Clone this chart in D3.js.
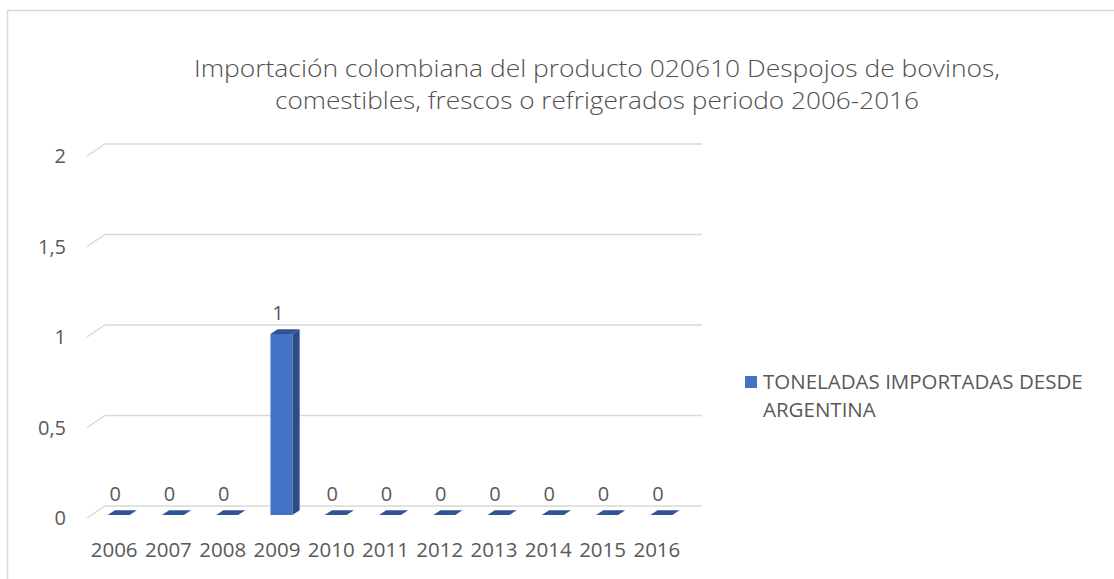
<!DOCTYPE html>
<html>
<head>
<meta charset="utf-8">
<script src="https://cdn.jsdelivr.net/npm/d3@7"></script>
<style>
  body { margin: 0; background: #fff; }
  text { font-family: "Open Sans", "Noto Sans", sans-serif; fill: #595959; }
</style>
</head>
<body>
<div id="chart"></div>
<script>
var titleLines = [
    'Importación colombiana del producto 020610 Despojos de bovinos,',
    'comestibles, frescos o refrigerados periodo 2006-2016'
];
var years = ['2006', '2007', '2008', '2009', '2010', '2011', '2012', '2013', '2014', '2015', '2016'];
var toneladas = [0, 0, 0, 1, 0, 0, 0, 0, 0, 0, 0];
var yTicks = [0, 0.5, 1, 1.5, 2];
var seriesName = ['TONELADAS IMPORTADAS DESDE', 'ARGENTINA'];

var width = 1114,
    height = 579,
    depthX = 18,   // 3d depth offset of the floor
    depthY = -12;

var svg = d3.select('#chart')
    .append('svg')
    .attr('width', width)
    .attr('height', height);

// chart area border
svg.append('rect')
    .attr('x', 7.5).attr('y', 10.5)
    .attr('width', 1130).attr('height', 600)
    .attr('fill', 'none')
    .attr('stroke', '#d9d9d9')
    .attr('stroke-width', 1.5);

// title
svg.append('g').selectAll('text')
    .data(titleLines)
    .enter()
    .append('text')
    .attr('x', 597)
    .attr('y', function (d, i) { return 77 + i * 32; })
    .attr('text-anchor', 'middle')
    .attr('font-size', 24.5)
    .attr('font-weight', 300)
    .style('fill', '#505050')
    .attr('textLength', function (d, i) { return i === 0 ? 806 : 644; })
    .attr('lengthAdjust', 'spacingAndGlyphs')
    .text(function (d) { return d; });

var x = d3.scaleBand()
    .domain(years)
    .range([87, 684]);

// value scale on the back wall
var y = d3.scaleLinear()
    .domain([0, 2])
    .range([506, 144]);

// point at front x, value, depth fraction f (0 front, 1 back)
var pt = function (xf, v, f) {
    return [xf + depthX * f, y(v) - depthY * (1 - f)];
};

var grid = svg.append('g')
    .attr('fill', 'none')
    .attr('stroke', '#d9d9d9')
    .attr('stroke-width', 1.5);

grid.selectAll('path')
    .data(yTicks)
    .enter()
    .append('path')
    .attr('d', function (t) {
        var a = pt(87, t, 0), b = pt(87, t, 1);
        return 'M' + a + 'L' + b + 'L' + (684 + depthX) + ',' + b[1];
    });

svg.append('g').selectAll('text')
    .data(yTicks)
    .enter()
    .append('text')
    .attr('x', 66)
    .attr('y', function (t) { return pt(87, t, 0)[1]; })
    .attr('dy', '0.35em')
    .attr('text-anchor', 'end')
    .attr('font-size', 20)
    .text(function (t) { return d3.format('')(t).replace('.', ','); });

svg.append('g').selectAll('text')
    .data(years)
    .enter()
    .append('text')
    .attr('x', function (d) { return x(d) + x.bandwidth() / 2; })
    .attr('y', 557)
    .attr('text-anchor', 'middle')
    .attr('font-size', 20.5)
    .text(function (d) { return d; });

// 3d bars
var barW = x.bandwidth() * 0.405,
    f0 = 0.25,
    f1 = 0.65;

var poly = function (pts) {
    return 'M' + pts.join('L') + 'Z';
};

var bars = svg.append('g').selectAll('g')
    .data(years)
    .enter()
    .append('g');

bars.each(function (d, i) {
    var g = d3.select(this),
        v = toneladas[i],
        xl = x(d) + x.bandwidth() / 2 - barW / 2,
        xr = xl + barW;
    if (v > 0) {
        g.append('path')
            .attr('fill', '#4472c4')
            .attr('d', poly([pt(xl, 0, f0), pt(xr, 0, f0), pt(xr, v, f0), pt(xl, v, f0)]));
        g.append('path')
            .attr('fill', '#2b4c88')
            .attr('d', poly([pt(xr, 0, f0), pt(xr, 0, f1), pt(xr, v, f1), pt(xr, v, f0)]));
    }
    g.append('path')
        .attr('fill', '#2f5597')
        .attr('d', poly([pt(xl, v, f0), pt(xr, v, f0), pt(xr, v, f1), pt(xl, v, f1)]));
    g.append('text')
        .attr('x', (xl + xr) / 2 + 1)
        .attr('y', pt(xl, v, f0)[1] - 14)
        .attr('text-anchor', 'middle')
        .attr('font-size', 20)
        .text(v);
});

// legend
var legend = svg.append('g');
legend.append('rect')
    .attr('x', 745).attr('y', 376)
    .attr('width', 12).attr('height', 12)
    .attr('fill', '#4472c4');
legend.selectAll('text')
    .data(seriesName)
    .enter()
    .append('text')
    .attr('x', 763)
    .attr('y', function (d, i) { return 389 + i * 28; })
    .attr('font-size', 20.5)
    .text(function (d) { return d; });
</script>
</body>
</html>
